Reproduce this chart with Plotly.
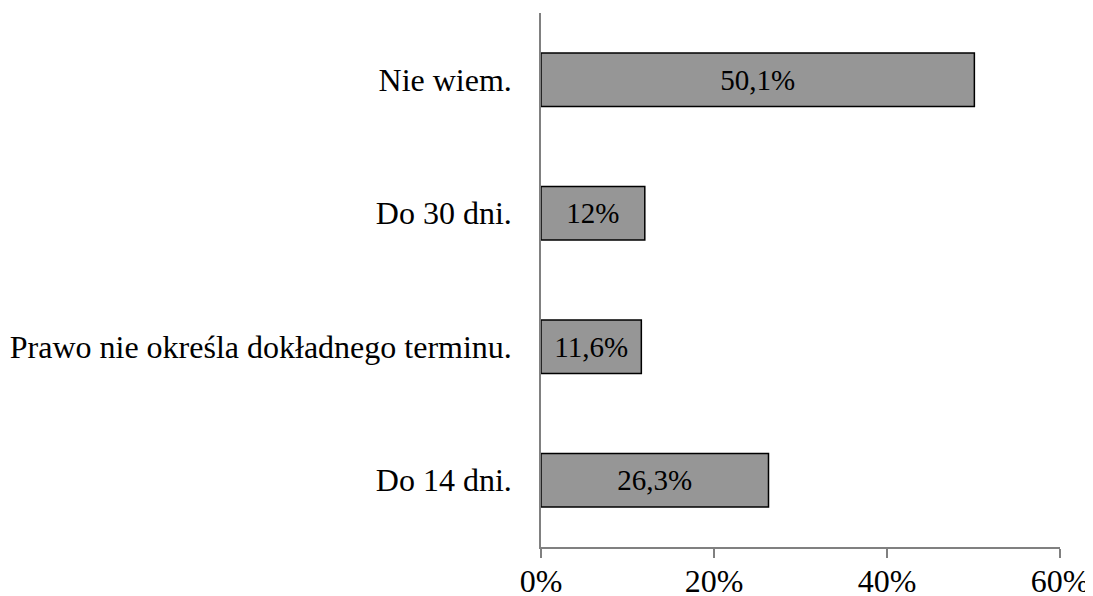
import plotly.graph_objects as go

categories = ["Do 14 dni.", "Prawo nie określa dokładnego terminu.", "Do 30 dni.", "Nie wiem."]
values = [26.3, 11.6, 12.0, 50.1]
labels = ["26,3%", "11,6%", "12%", "50,1%"]
tick_vals = [0, 20, 40, 60]
tick_text = ["0%", "20%", "40%", "60%"]

font_family = "Liberation Serif"

fig = go.Figure(go.Bar(
    y=categories, x=values, orientation="h",
    marker=dict(color="#969696", line=dict(color="#000000", width=1.5)),
    width=0.4,
    text=labels, textposition="inside", insidetextanchor="middle",
    textfont=dict(family=font_family, size=29, color="#000000"),
    hoverinfo="skip",
))

fig.update_layout(
    width=1093, height=596,
    margin=dict(l=533, r=41, t=5, b=57, autoexpand=False),
    paper_bgcolor="white", plot_bgcolor="white",
    showlegend=False,
    font=dict(family=font_family, size=32, color="#000000"),
    uniformtext=dict(mode="show", minsize=29),
)
fig.update_xaxes(
    range=[0, 60], tickvals=tick_vals, ticktext=tick_text,
    showgrid=False, zeroline=False,
    showline=True, linecolor="#808080", linewidth=1.5,
    ticks="outside", ticklen=9, tickcolor="#808080", tickwidth=1.5,
    ticklabelstandoff=-4,
    tickfont=dict(family=font_family, size=32, color="#000000"),
    automargin=False, fixedrange=True,
)
fig.update_yaxes(
    categoryorder="array", categoryarray=categories,
    showgrid=False, zeroline=False,
    showline=True, linecolor="#808080", linewidth=1.5,
    ticks="", ticklabelstandoff=21,
    tickfont=dict(family=font_family, size=32, color="#000000"),
    automargin=False, fixedrange=True,
)

fig.write_html("out.html")
